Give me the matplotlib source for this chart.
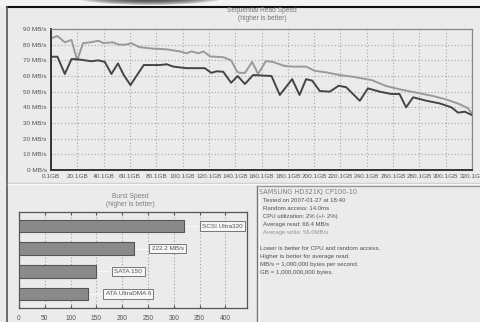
import numpy as np
import matplotlib
matplotlib.use("Agg")
import matplotlib.pyplot as plt
from matplotlib.lines import Line2D
from matplotlib.patches import Ellipse

plt.rcParams['font.family'] = ['Liberation Sans', 'DejaVu Sans']

W, H = 481, 322

# sequential read (light = upper curve, dark = lower curve), GB -> MB/s
read_hi_gb = [0, 5, 10.6, 15.7, 20, 24.5, 30, 36, 40, 47, 52, 57, 61, 67, 77, 88, 98, 103, 107, 112,
              116, 121, 131, 137, 141.6, 143.6, 147.5, 153, 157.5, 163.4, 168.5, 177.8, 184, 194,
              200.6, 209.5, 219.6, 229.7, 243.7, 255, 265, 280, 290.5, 300.7, 310.8, 317, 320]
read_hi = [84, 85.5, 81.5, 83, 70, 81, 81.5, 82.5, 81, 81.5, 80, 80, 81, 78.5, 77.5, 77, 75.7, 74.5, 75.7, 74.5,
           75.7, 72.5, 72, 70, 62.7, 62, 62, 69, 61.3, 69.5, 69, 66.4, 66, 66,
           63.3, 62.3, 60.6, 59.5, 57.4, 53.6, 51.5, 49, 47.2, 45, 42, 39.4, 36.2]

read_lo_gb = [0, 5, 10.6, 15.7, 20, 26, 31, 36, 41, 46, 51, 55.5, 60.5, 65, 70.6, 83, 88, 93, 103, 117,
              122, 126, 131, 137, 142, 147.5, 153.7, 167.7, 174, 183.4, 189, 194, 198.7, 204.4, 212,
              218.8, 224.5, 234.8, 241, 250, 258.9, 265, 270, 275.3, 285.5, 295.6, 304.5, 309.5, 314.6, 320]
read_lo = [72.3, 72.3, 61.3, 70.8, 70.7, 70, 69.4, 70, 69, 61.3, 68, 60.5, 54.2, 60, 67, 67, 67.5, 66, 65, 65,
           62, 63, 62.7, 55.7, 60, 54.9, 60.6, 60, 47.9, 58, 47.9, 58, 57, 50.4, 50,
           53.8, 52.8, 44.2, 52.1, 50, 48.5, 48.5, 40, 46.4, 44.2, 42.5, 40, 36.6, 37.2, 35.1]

x_ticks = [0.1 + 20 * i for i in range(17)]
x_labels = ["%.1fGB" % v for v in x_ticks]
y_ticks = list(range(0, 100, 10))
y_labels = ["%d MB/s" % v for v in y_ticks]

# burst speed
burst_labels = ["SCSI Ultra320", "222.2 MB/s", "SATA 150", "ATA UltraDMA 6"]
burst_values = [320, 222.2, 150, 133]

info_head = "SAMSUNG HD321KJ CP100-10"
info_lines = ["Tested on 2007-01-27 at 18:40",
              "Random access: 14.0ms",
              "CPU utilization: 2% (+/- 2%)",
              "Average read: 66.4 MB/s",
              "Average write: 56.0MB/s"]
note_lines = ["Lower is better for CPU and random access.",
              "Higher is better for average read.",
              "MB/s = 1,000,000 bytes per second.",
              "GB = 1,000,000,000 bytes."]


def box(x0, y0, x1, y1):
    # pixel box (top-left origin) -> figure fraction rect
    return [x0 / W, 1 - y1 / H, (x1 - x0) / W, (y1 - y0) / H]


fig = plt.figure(figsize=(W / 100, H / 100), dpi=100)
fig.patch.set_facecolor("#ebebeb")


def fline(xs, ys, **kw):
    fig.add_artist(Line2D([x / W for x in xs], [1 - y / H for y in ys], transform=fig.transFigure, **kw))


# top strip + shadow smudge
fig.add_artist(plt.Rectangle((0, 1 - 7 / H), 1, 7 / H, transform=fig.transFigure, color="#f3f3f3", lw=0))
for k in range(9):
    fig.add_artist(Ellipse((150 / W, 1 + 3 / H), (150 - k * 13) / W, (16 - k * 1.2) / H,
                           transform=fig.transFigure, color="#2a2a2a", alpha=0.17, lw=0))
fline([7, W], [7, 7], color="#111111", lw=1.5)
fline([7, 7], [7, H], color="#555555", lw=1.2)
fline([8, W], [183, 183], color="#c8c8c8", lw=1)
fline([8, W], [184, 184], color="#fafafa", lw=1)
fline([257, 257], [186, H], color="#777777", lw=1)
fline([259, 259], [186, H], color="#fafafa", lw=1)
fline([257, W], [186, 186], color="#999999", lw=1)

# sequential read
ax = fig.add_axes(box(51, 29, 472, 170))
ax.set_facecolor("#ebebeb")
ax.plot(read_hi_gb, read_hi, color="#9a9a9a", lw=1.4)
ax.plot(read_lo_gb, read_lo, color="#454545", lw=1.4)
ax.set_xlim(0.1, 320.1)
ax.set_ylim(0, 90)
ax.set_xticks(x_ticks)
ax.set_xticklabels(x_labels)
ax.set_yticks(y_ticks)
ax.set_yticklabels(y_labels)
ax.tick_params(labelsize=4.6, colors="#555555", length=0, pad=3)
ax.grid(True, color="#a8a8a8", lw=0.8, ls=(0, (1, 2)))
for s in ["top", "right"]:
    ax.spines[s].set_color("#888888")
    ax.spines[s].set_linestyle((0, (1, 1)))
    ax.spines[s].set_linewidth(0.9)
for s in ["left", "bottom"]:
    ax.spines[s].set_color("#333333")
    ax.spines[s].set_linewidth(1.4)
fig.text(262 / W, 1 - 11 / H, "Sequential Read Speed", ha="center", va="center", fontsize=4.8, color="#777777")
fig.text(262 / W, 1 - 19 / H, "(higher is better)", ha="center", va="center", fontsize=4.8, color="#777777")

# burst speed
bx = fig.add_axes(box(19, 212, 247, 308))
bx.set_facecolor("#ebebeb")
pos = np.arange(len(burst_values))[::-1]
bx.barh(pos, burst_values, height=0.56, color="#8a8a8a", edgecolor="#555555", lw=0.8, zorder=3)
for p, v, lab in zip(pos, burst_values, burst_labels):
    bx.plot([v, v + 25], [p, p], color="#fafafa", lw=0.8, zorder=2)
    bx.annotate(lab, (v, p), xytext=(13, 0), textcoords="offset points", ha="left", va="center",
                fontsize=4.6, color="#555555", zorder=4,
                bbox=dict(boxstyle="square,pad=0.35", fc="#f6f6f6", ec="#777777", lw=0.7))
bx.set_xlim(0, 442)
bx.set_ylim(-0.62, 3.62)
bx.set_xticks(range(0, 450, 50))
bx.set_yticks([])
bx.tick_params(labelsize=4.8, colors="#555555", length=2, direction="in", top=True, pad=5)
bx.grid(True, axis="x", color="#a0a0a0", lw=0.8, ls=(0, (1, 2)))
for s in bx.spines.values():
    s.set_color("#555555")
    s.set_linewidth(0.9)
fig.text(130 / W, 1 - 197 / H, "Burst Speed", ha="center", va="center", fontsize=4.8, color="#808080")
fig.text(130 / W, 1 - 205 / H, "(higher is better)", ha="center", va="center", fontsize=4.8, color="#808080")

# info panel
fig.text(259 / W, 1 - 191.7 / H, info_head, ha="left", va="center", fontsize=4.8, color="#808080",
         family=["DejaVu Sans"])
for i, t in enumerate(info_lines):
    c = "#959595" if i == len(info_lines) - 1 else "#505050"
    fig.text(263 / W, 1 - (200.2 + 8.0 * i) / H, t, ha="left", va="center", fontsize=4.3, color=c)
for i, t in enumerate(note_lines):
    fig.text(260 / W, 1 - (249 + 7.9 * i) / H, t, ha="left", va="center", fontsize=4.4, color="#505050")

fig.savefig("out.png", dpi=100, facecolor=fig.get_facecolor())
